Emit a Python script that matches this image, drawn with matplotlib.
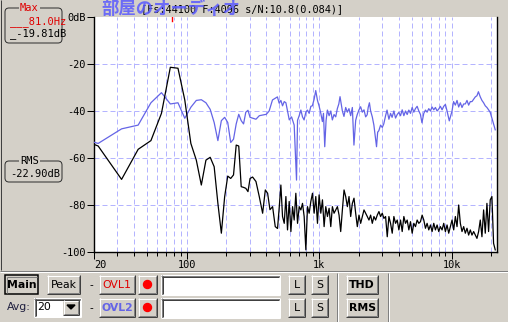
import matplotlib
matplotlib.use("Agg")
import matplotlib.pyplot as plt
from matplotlib.patches import Rectangle, FancyBboxPatch, Circle, Polygon

# spectrum (Hz, dB)
blue_f = [20, 21.5, 32.3, 43.1, 53.8, 64.6, 75.4, 86.1, 96.9, 107.7, 118.4, 129.2,
          140.0, 150.7, 161.5, 172.3, 183.0, 193.8, 204.5, 215.3, 226.1, 236.9, 247.6,
          258.4, 269.2, 279.9, 290.7, 301.5, 334, 354, 400, 420, 445, 485,
          500, 515, 530, 546, 562, 580, 596, 620, 649, 676, 688, 708, 729, 750, 771,
          795, 817, 842, 867, 890, 918, 944, 973, 1000, 1031, 1060, 1080, 1104, 1130,
          1156, 1191, 1226, 1260, 1298, 1336, 1374, 1410, 1440, 1500, 1542, 1589, 1636,
          1682, 1733, 1784, 1834, 1890, 1940, 2002, 2060, 2121, 2184, 2248, 2308, 2350,
          2400, 2451, 2523, 2594, 2716, 2770, 2826, 2915, 3000, 3080, 3179, 3260, 3368,
          3466, 3560, 3672, 3780, 3891, 4000, 4122, 4243, 4367, 4495, 4627, 4760, 4902,
          5046, 5194, 5340, 5503, 5664, 5830, 5980, 6176, 6360, 6543, 6735, 6933, 7136,
          7345, 7560, 7782, 8000, 8244, 8486, 8734, 8990, 9254, 9620, 10092, 10360,
          10691, 11005, 11327, 11659, 12001, 12352, 12714, 13087, 13471, 13865, 14271,
          14690, 15120, 15563, 15960, 16488, 16972, 17469, 17981, 18508, 19050, 19608,
          20183, 20774, 21383]
blue_db = [-53.3, -53.8, -47.6, -46.0, -36.5, -32.2, -37.0, -36.5, -43.1, -38.4, -35.5, -35.2,
           -36.5, -39.3, -44.9, -52.6, -44.1, -42.7, -44.9, -53.4, -52.0, -45.5, -41.4,
           -44.1, -45.5, -40.5, -39.7, -42.7, -43.5, -42.0, -41.4, -40.0, -35.3, -34.0,
           -36.7, -35.5, -37.8, -36.0, -36.5, -40.5, -43.8, -42.5, -46.0, -69.4, -44.0, -42.0, -39.6, -42.5, -43.8,
           -40.5, -39.6, -41.0, -38.0, -37.8, -35.0, -31.3, -35.5, -37.8, -41.0, -44.5, -41.0, -55.2, -44.0,
           -39.6, -42.0, -40.0, -43.8, -41.5, -42.5, -39.0, -37.0, -33.9, -40.0, -42.3, -38.5, -40.5,
           -39.0, -42.0, -38.5, -54.5, -44.0, -41.6, -39.5, -38.2, -40.5, -39.5, -42.5, -41.6, -38.5,
           -36.5, -40.0, -42.5, -46.0, -55.2, -49.0, -48.4, -46.0, -47.0, -45.5, -42.0, -39.6, -43.5,
           -41.0, -42.7, -40.0, -43.0, -41.5, -40.6, -42.0, -39.5, -42.0, -40.0, -41.5, -39.6, -41.0,
           -38.5, -40.5, -39.0, -38.0, -40.0, -41.5, -45.0, -41.0, -39.6, -40.5, -39.0, -40.0, -38.3,
           -39.5, -38.5, -40.0, -39.2, -38.0, -39.5, -38.0, -37.2, -40.0, -44.2, -40.0, -36.0,
           -37.5, -35.5, -38.3, -36.5, -38.5, -37.0, -37.0, -35.5, -37.5, -36.0, -36.0,
           -35.0, -34.0, -33.5, -31.8, -34.0, -35.5, -36.5, -37.8, -38.5, -39.5, -40.6,
           -43.0, -45.5, -48.0]

black_f = [20, 21.5, 32.3, 43.1, 53.8, 64.6, 75.4, 86.1, 96.9, 107.7, 118.4, 129.2,
           140.0, 150.7, 161.5, 172.3, 183.0, 193.8, 204.5, 215.3, 226.1, 236.9, 247.6,
           258.4, 269.2, 279.9, 290.7, 301.5, 315, 334, 354, 375, 393, 409, 426, 446, 467, 486,
           501, 515, 530, 546, 562, 578, 595, 613, 631, 649, 668, 688, 708, 729, 750, 772,
           795, 818, 842, 867, 892, 918, 945, 973, 1001, 1031, 1061, 1092, 1124, 1157,
           1191, 1226, 1261, 1298, 1336, 1376, 1416, 1457, 1500, 1544, 1589, 1636, 1684,
           1733, 1784, 1836, 1890, 1945, 2002, 2061, 2121, 2184, 2248, 2313, 2381, 2451,
           2523, 2597, 2673, 2751, 2832, 2915, 3000, 3088, 3179, 3272, 3368, 3466, 3568,
           3672, 3780, 3891, 4005, 4122, 4243, 4367, 4495, 4627, 4763, 4902, 5046, 5194,
           5346, 5503, 5664, 5830, 6000, 6176, 6357, 6543, 6735, 6933, 7136, 7345, 7560,
           7782, 8010, 8244, 8486, 8734, 8990, 9254, 9525, 9804, 10092, 10387, 10691,
           11005, 11327, 11659, 12001, 12352, 12714, 13087, 13471, 13865, 14271, 14690,
           15120, 15563, 16019, 16488, 16972, 17469, 17981, 18508, 19050, 19608, 20183,
           20774, 21383]
black_db = [-54.2, -54.9, -69.1, -56.3, -52.6, -41.0, -21.4, -21.8, -35.3, -53.8, -60.9, -71.5,
            -60.9, -59.7, -63.7, -79.3, -92.0, -76.5, -67.7, -68.7, -67.2, -54.5, -54.9,
            -72.2, -72.5, -72.9, -74.3, -68.7, -68.1, -70.0, -76.5, -83.5, -73.6, -75.0, -82.0, -80.7, -89.2, -90.0,
            -80.7, -71.5, -84.9, -87.8, -76.4, -90.6, -78.5, -91.3, -80.7, -86.4, -75.0, -87.8, -80.7, -82.1, -79.3, -84.9,
            -99.1, -80.7, -83.5, -78.5, -75.0, -83.5, -76.4, -87.8, -75.7, -83.5, -77.8, -89.2, -80.7, -84.9,
            -81.4, -89.2, -80.7, -83.5, -82.1, -80.7, -84.3, -91.3, -82.1, -73.6, -76.4, -80.7, -76.4,
            -84.9, -79.3, -77.1, -83.5, -89.2, -84.3, -87.8, -84.9, -82.1, -83.5, -84.9, -86.4, -84.3,
            -87.8, -84.9, -86.4, -84.3, -82.8, -84.9, -83.5, -85.7, -84.9, -93.5, -84.9, -87.8, -92.0,
            -84.9, -87.8, -86.4, -90.6, -86.4, -91.3, -84.9, -87.8, -86.4, -90.6, -87.1, -92.0, -87.8,
            -89.2, -86.4, -87.8, -87.1, -84.3, -86.4, -89.9, -87.8, -90.6, -88.5, -91.3, -87.8, -90.6,
            -88.5, -91.3, -89.2, -90.6, -87.8, -91.3, -88.5, -92.0, -89.2, -86.4, -90.6, -84.9,
            -89.2, -80.0, -87.8, -91.3, -89.2, -92.0, -89.9, -92.8, -90.6, -92.8, -91.3,
            -92.8, -94.2, -91.3, -86.4, -93.5, -82.1, -92.0, -79.3, -91.3, -77.8, -76.4,
            -96.3, -99.1]

xticks = [20, 100, 1000, 10000]
xtick_labels = ["20", "100", "1k", "10k"]
xminor = [30, 40, 50, 60, 70, 80, 90, 200, 300, 400, 500, 600, 700, 800, 900,
          2000, 3000, 4000, 5000, 6000, 7000, 8000, 9000, 20000]
yticks = [0, -20, -40, -60, -80, -100]
ytick_labels = ["0dB", "-20", "-40", "-60", "-80", "-100"]

FACE = "#d4d0c8"
BLUE = "#6464e6"
GRID = "#b4b4ff"
MONO = ["DejaVu Sans Mono", "Noto Sans CJK JP"]
PX = 0.72  # 1 pixel line width in points

fig = plt.figure(figsize=(5.08, 3.22), dpi=100, facecolor=FACE)

# pixel-space layer for the surrounding window widgets
ui = fig.add_axes([0, 0, 1, 1], zorder=0)
ui.set_xlim(0, 508)
ui.set_ylim(322, 0)
ui.axis("off")


def hline(x0, x1, y, c):
    ui.plot([x0, x1], [y, y], color=c, lw=PX, solid_capstyle="butt")


def vline(x, y0, y1, c):
    ui.plot([x, x], [y0, y1], color=c, lw=PX, solid_capstyle="butt")


def button(x, y, w, h, label, color="black", weight="normal", pressed=False):
    ui.add_patch(Rectangle((x, y), w, h, facecolor=FACE, edgecolor="none"))
    if pressed:
        ui.add_patch(Rectangle((x, y), w, h, facecolor="none", edgecolor="black", lw=PX * 1.5))
        hline(x + 1.5, x + w - 1.5, y + 2, "#808080")
        vline(x + 2, y + 1.5, y + h - 1.5, "#808080")
    else:
        hline(x, x + w, y + 0.5, "white")
        vline(x + 0.5, y, y + h, "white")
        hline(x, x + w, y + h - 0.5, "#404040")
        vline(x + w - 0.5, y, y + h, "#404040")
        hline(x + 1, x + w - 1, y + h - 1.5, "#808080")
        vline(x + w - 1.5, y + 1, y + h - 1, "#808080")
    ui.text(x + w / 2, y + h / 2 + 0.5, label, color=color, fontsize=7.8, weight=weight,
            ha="center", va="center", family="DejaVu Sans")


def field(x, y, w, h):
    ui.add_patch(Rectangle((x, y), w, h, facecolor="white", edgecolor="none"))
    hline(x, x + w, y + 0.5, "#808080")
    vline(x + 0.5, y, y + h, "#808080")
    hline(x + 1, x + w - 1, y + 1.5, "#404040")
    vline(x + 1.5, y + 1, y + h - 1, "#404040")
    hline(x, x + w, y + h - 0.5, "white")
    vline(x + w - 0.5, y, y + h, "white")


def group_box(x, y, w, h, title, title_color):
    ui.add_patch(FancyBboxPatch((x, y), w, h, boxstyle="round,pad=0,rounding_size=4",
                                facecolor="none", edgecolor="#303030", lw=PX))
    ui.text(x + w / 2 - 4, y, title, color=title_color, fontsize=7.5, family=MONO,
            ha="center", va="center", bbox=dict(facecolor=FACE, edgecolor="none", pad=0.6))


# window frame pieces
vline(1, 0, 270, "#404040")
hline(0, 508, 271, "#808080")
hline(0, 508, 272, "white")
for sx in (337, 388):
    vline(sx, 273, 322, "#808080")
    vline(sx + 1, 273, 322, "white")

# left readouts
group_box(5, 8, 57, 35, "Max", "#e00000")
ui.text(10, 22, "___81.0Hz", color="#e00000", fontsize=7.5, family=MONO, va="center")
ui.text(10, 34, "_-19.81dB", color="black", fontsize=7.5, family=MONO, va="center")
group_box(5, 161, 57, 21, "RMS", "black")
ui.text(10, 174, "-22.90dB", color="black", fontsize=7.5, family=MONO, va="center")

# title line
ui.text(141, 9, "[Fs:44100 F:4096 s/N:10.8(0.084)]", color="black", fontsize=7.4,
        family=MONO, va="center")
ui.text(101, 9, "部屋のオーディオ", color="#5a5aff", alpha=0.85, fontsize=12.5,
        weight="bold", family=["Noto Sans CJK JP", "DejaVu Sans"], va="center")

# bottom control strip, row 1
button(5, 275, 33, 19, "Main", weight="bold", pressed=True)
button(47, 275, 33, 19, "Peak")
ui.text(91, 285, "-", fontsize=7.5, ha="center", va="center")
button(99, 275, 36, 19, "OVL1", color="#e00000")
button(138, 275, 19, 19, "")
ui.add_patch(Circle((147.5, 284.5), 4, color="red"))
field(161, 275, 119, 20)
button(288, 275, 17, 19, "L")
button(311, 275, 17, 19, "S")
button(346, 275, 32, 19, "THD", weight="bold")

# row 2
ui.text(7, 307, "Avg:", fontsize=7.8, va="center", family="DejaVu Sans", color="#202040")
field(34, 298, 47, 19)
ui.text(37, 307, "20", fontsize=7.8, va="center", family="DejaVu Sans")
button(63, 300, 16, 15, "")
ui.add_patch(Polygon([(67, 305), (75, 305), (71, 309)], closed=True, color="black"))
ui.text(91, 308, "-", fontsize=7.5, ha="center", va="center")
button(99, 298, 36, 19, "OVL2", color=BLUE, weight="bold")
button(138, 298, 19, 19, "")
ui.add_patch(Circle((147.5, 307.5), 4, color="red"))
field(161, 298, 119, 20)
button(288, 298, 17, 19, "L")
button(311, 298, 17, 19, "S")
button(346, 298, 32, 19, "RMS", weight="bold")

# spectrum plot
ax = fig.add_axes([94 / 508, (322 - 252) / 322, (497 - 94) / 508, (252 - 17) / 322], zorder=2)
ax.set_facecolor("white")
ax.set_xscale("log")
ax.set_xlim(20, 22050)
ax.set_ylim(-100, 0)

for g in xminor + xticks[1:]:
    ax.axvline(g, color=GRID, lw=PX, ls=(0, (5, 3)), zorder=1)
for g in yticks[1:-1]:
    ax.axhline(g, color=GRID, lw=PX, ls=(0, (5, 3)), zorder=1)

ax.plot(blue_f, blue_db, color=BLUE, lw=0.9, zorder=3)
ax.plot(black_f, black_db, color="black", lw=0.9, zorder=4)
ax.axvline(77, ymin=0.983, ymax=1, color="red", lw=PX * 1.4, zorder=5)

ax.set_xticks(xticks)
ax.set_xticklabels(xtick_labels)
ax.set_xticks(xminor, minor=True)
ax.set_xticklabels([], minor=True)
ax.set_yticks(yticks)
ax.set_yticklabels(ytick_labels)
ax.tick_params(axis="both", which="major", length=5, width=PX, pad=1, labelsize=7.4,
               direction="out", colors="black")
ax.tick_params(axis="x", which="minor", length=3, width=PX, direction="out")
ax.tick_params(axis="y", which="minor", left=False)
for lab in ax.get_xticklabels() + ax.get_yticklabels():
    lab.set_family(MONO)
ax.get_xticklabels()[0].set_horizontalalignment("left")

ax.spines["top"].set_visible(False)
for s in ("left", "bottom", "right"):
    ax.spines[s].set_linewidth(PX * 1.4)
    ax.spines[s].set_color("black")

fig.savefig("out.png", dpi=100, facecolor=FACE)
